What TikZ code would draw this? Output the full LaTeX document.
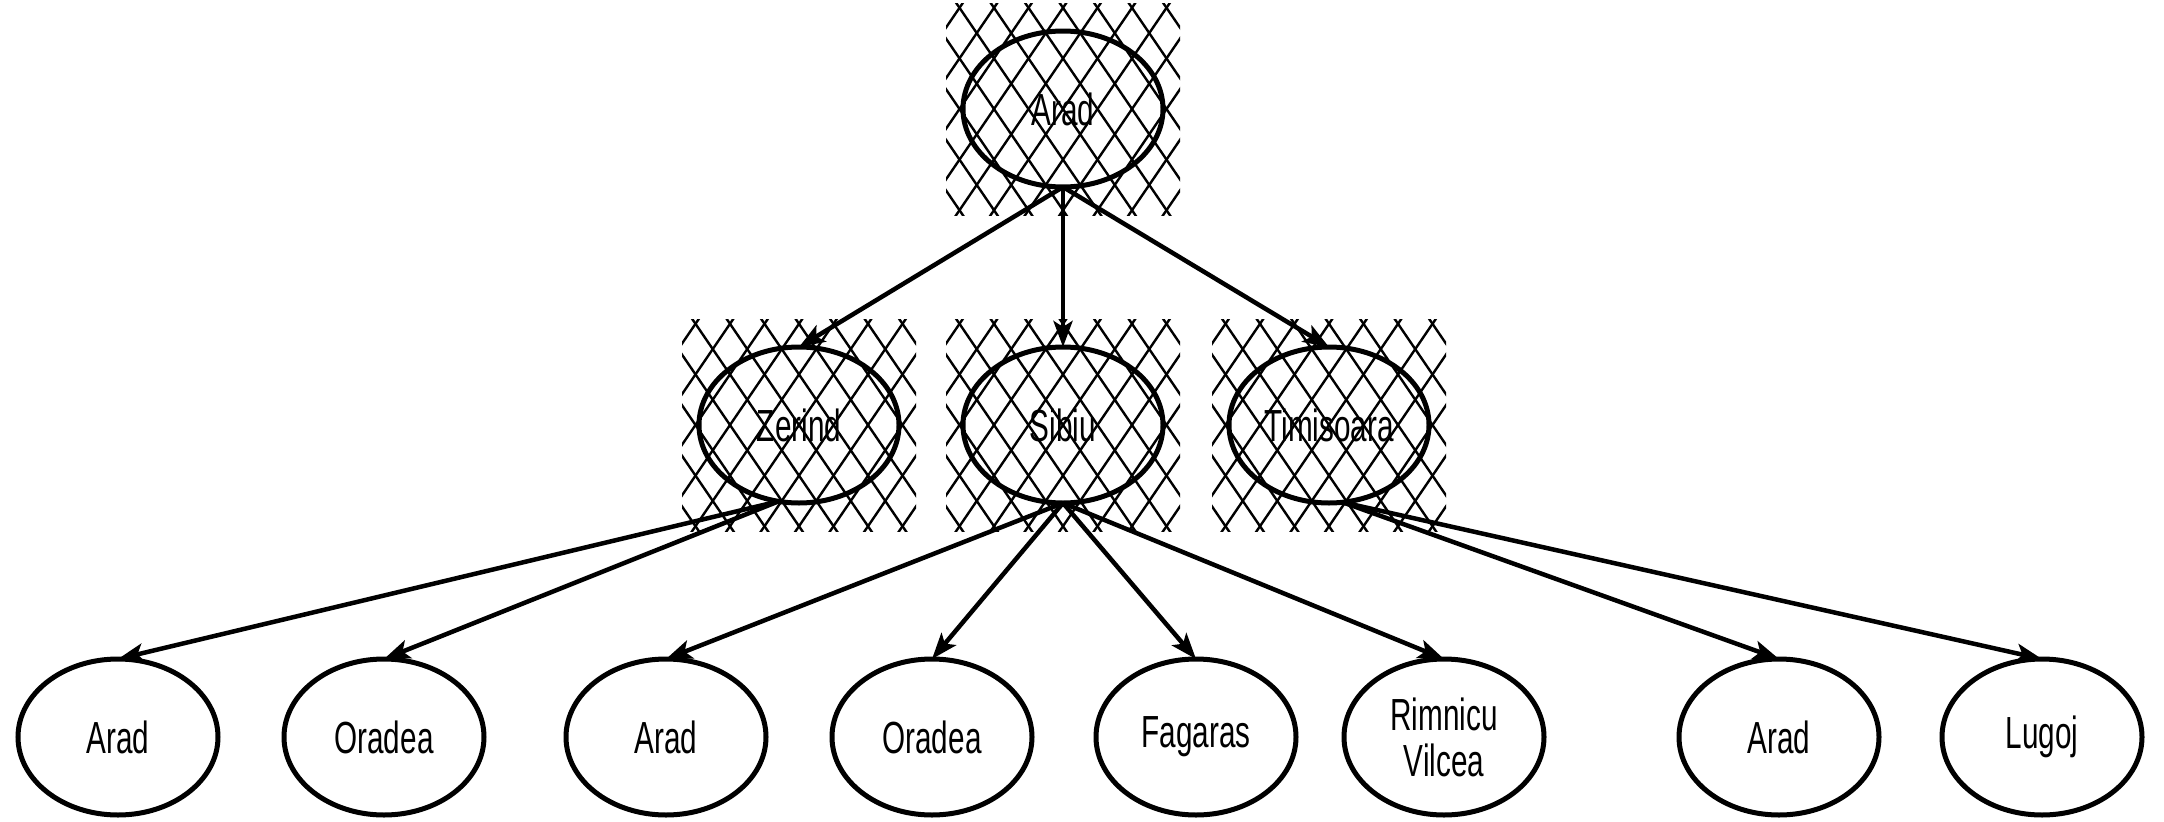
\documentclass[tikz,border=0pt]{standalone}
\usepackage{fontspec}
\setmainfont{Liberation Sans}[FakeStretch=0.66]
\usetikzlibrary{shapes.geometric,arrows.meta,backgrounds}

\tikzset{
  city/.style={ellipse, draw=black, line width=5pt, minimum width=200pt,
    minimum height=156pt, inner sep=0pt, outer sep=0pt, align=center,
    font=\fontsize{45}{46}\selectfont},
  link/.style={line width=4.5pt, -{Stealth[length=26pt,width=19pt,inset=6pt]}},
  hatchline/.style={line width=2.4pt, black},
}

% cross-hatched square drawn behind an expanded node
\newcommand{\hatchbehind}[1]{%
  \begin{scope}[on background layer]
    \begin{scope}[shift={(#1.center)}]
      \clip (-117,-106) rectangle (117,106);
      \foreach \k in {-9,...,9} {
        \draw[hatchline] ({\k*34.5-75},-110) -- ({\k*34.5+75},110);
        \draw[hatchline] ({\k*34.5+75},-110) -- ({\k*34.5-75},110);
      }
    \end{scope}
  \end{scope}}

\begin{document}
\begin{tikzpicture}[x=1pt, y=-1pt]
  \useasboundingbox (0,0) rectangle (2164,822);

  % root
  \node[city] (arad0) at (1063,109) {Arad};
  % depth 1
  \node[city] (zer) at (799,425) {Zerind};
  \node[city] (sib) at (1063,425) {Sibiu};
  \node[city] (tim) at (1329,425) {Timisoara};
  % depth 2
  \node[city] (a1)  at (118,737)  {Arad};
  \node[city] (o1)  at (384,737)  {Oradea};
  \node[city] (a2)  at (666,737)  {Arad};
  \node[city] (o2)  at (932,737)  {Oradea};
  \node[city] (fag) at (1196,737) {Fagaras};
  \node[city] (rv)  at (1444,737) {Rimnicu\\Vilcea};
  \node[city] (a3)  at (1779,737) {Arad};
  \node[city] (lug) at (2042,737) {Lugoj};

  % expanded nodes
  \hatchbehind{arad0}
  \hatchbehind{zer}
  \hatchbehind{sib}
  \hatchbehind{tim}

  % tree edges
  \draw[link] (arad0.south) -- (zer.north);
  \draw[link] (arad0.south) -- (sib.north);
  \draw[link] (arad0.south) -- (tim.north);

  \draw[link] (zer.-105) -- (a1.north);
  \draw[link] (zer.-105) -- (o1.north);

  \draw[link] (sib.south) -- (a2.north);
  \draw[link] (sib.south) -- (o2.north);
  \draw[link] (sib.south) -- (fag.north);
  \draw[link] (sib.south) -- (rv.north);

  \draw[link] (tim.-80) -- (a3.north);
  \draw[link] (tim.-80) -- (lug.north);
\end{tikzpicture}
\end{document}
